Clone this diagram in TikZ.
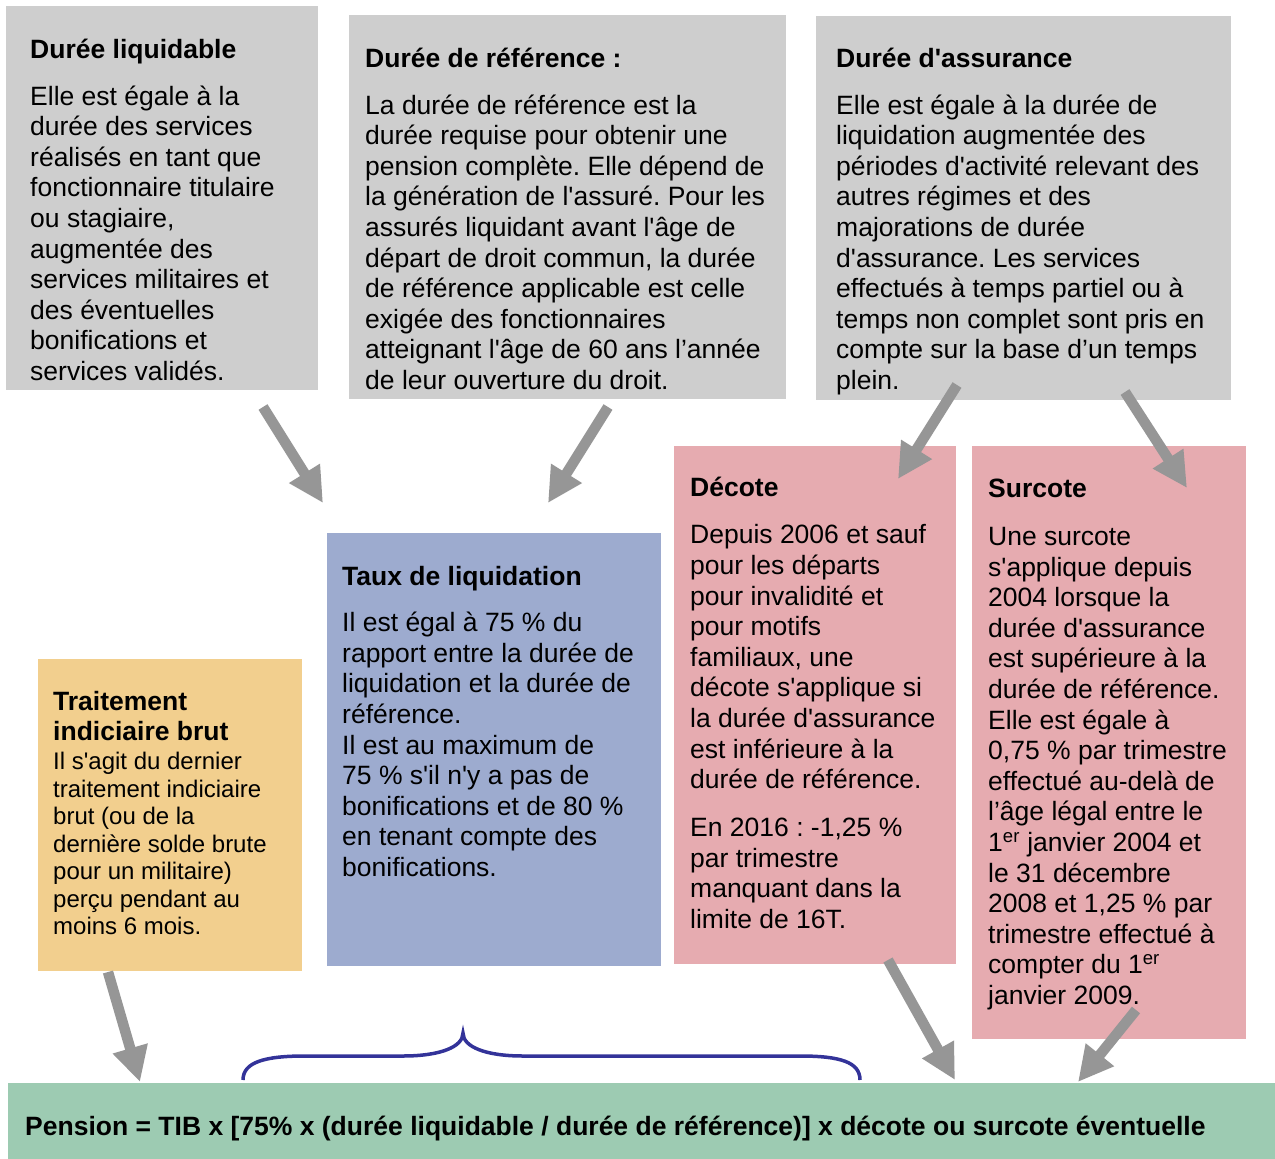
\documentclass[tikz,border=0pt]{standalone}
\usepackage{fontspec}
\newfontfamily\arial{Liberation Sans}
\usetikzlibrary{arrows.meta}
\frenchspacing

\definecolor{boxgrey}{RGB}{206,206,206}
\definecolor{boxblue}{RGB}{157,171,207}
\definecolor{boxorange}{RGB}{242,207,142}
\definecolor{boxpink}{RGB}{230,171,176}
\definecolor{boxgreen}{RGB}{157,203,178}
\definecolor{arrowgrey}{RGB}{150,150,150}
\definecolor{braceblue}{RGB}{51,51,153}

\begin{document}
\begin{tikzpicture}[
    x=1pt, y=-1pt,
    box/.style={anchor=north west, inner sep=0pt, outer sep=0pt},
    txt/.style={anchor=base west, inner sep=0pt, align=left,
        font=\arial\fontsize{26.5}{30.6}\selectfont},
    smalltxt/.style={txt, font=\arial\fontsize{24}{27.5}\selectfont},
    bigarrow/.style={draw=arrowgrey, line width=10.5pt,
        -{Triangle[length=35pt,width=34pt]}},
    brace/.style={draw=braceblue, line width=3.5pt}
    ]
\useasboundingbox (0,0) rectangle (1275,1159);

% boxes
\node[box, fill=boxgrey, minimum width=312pt, minimum height=384pt] (liq) at (6,6) {};
\node[box, fill=boxgrey, minimum width=437pt, minimum height=384pt] (ref) at (349,15) {};
\node[box, fill=boxgrey, minimum width=415pt, minimum height=384pt] (ass) at (816,16) {};
\node[box, fill=boxblue, minimum width=334pt, minimum height=433pt] (taux) at (327,533) {};
\node[box, fill=boxorange, minimum width=264pt, minimum height=312pt] (tib) at (38,659) {};
\node[box, fill=boxpink, minimum width=282pt, minimum height=518pt] (deco) at (674,446) {};
\node[box, fill=boxpink, minimum width=274pt, minimum height=593pt] (surco) at (972,446) {};
\node[box, fill=boxgreen, minimum width=1267pt, minimum height=76pt] (pension) at (8,1083) {};

% texts (placed by the baseline of their last line)
\node[txt] (liqtxt) at (30,380.5) {{\bfseries Durée liquidable}\\[16.4pt]
    Elle est égale à la\\ durée des services\\ réalisés en tant que\\
    fonctionnaire titulaire\\ ou stagiaire,\\ augmentée des\\
    services militaires et\\ des éventuelles\\ bonifications et\\
    services validés.};
\node[txt] (reftxt) at (365,389.5) {{\bfseries Durée de référence :}\\[16.4pt]
    La durée de référence est la\\ durée requise pour obtenir une\\
    pension complète. Elle dépend de\\ la génération de l'assuré. Pour les\\
    assurés liquidant avant l'âge de\\ départ de droit commun, la durée\\
    de référence applicable est celle\\ exigée des fonctionnaires\\
    atteignant l'âge de 60 ans l’année\\ de leur ouverture du droit.};
\node[txt] (asstxt) at (836,389.5) {{\bfseries Durée d'assurance}\\[16.4pt]
    Elle est égale à la durée de\\ liquidation augmentée des\\
    périodes d'activité relevant des\\ autres régimes et des\\
    majorations de durée\\ d'assurance. Les services\\
    effectués à temps partiel ou à\\ temps non complet sont pris en\\
    compte sur la base d’un temps\\ plein.};
\node[txt] (tauxtxt) at (342,876.5) {{\bfseries Taux de liquidation}\\[15.4pt]
    Il est égal à 75 \% du\\ rapport entre la durée de\\
    liquidation et la durée de\\ référence.\\ Il est au maximum de\\
    75 \% s'il n'y a pas de\\ bonifications et de 80 \%\\
    en tenant compte des\\ bonifications.};
\node[txt, font=\arial\bfseries\fontsize{26.5}{30}\selectfont] (tibtitle) at (53,740.5)
    {Traitement\\ indiciaire brut};
\node[smalltxt] (tibtxt) at (53,934.6) {Il s'agit du dernier\\ traitement indiciaire\\
    brut (ou de la\\ dernière solde brute\\ pour un militaire)\\
    perçu pendant au\\ moins 6 mois.};
\node[txt] (decotxt) at (690,928.5) {{\bfseries Décote}\\[16.4pt]
    Depuis 2006 et sauf\\ pour les départs\\ pour invalidité et\\
    pour motifs\\ familiaux, une\\ décote s'applique si\\
    la durée d'assurance\\ est inférieure à la\\ durée de référence.\\[17.5pt]
    En 2016 : -1,25 \%\\ par trimestre\\ manquant dans la\\ limite de 16T.};
\node[txt] (surcotxt) at (988,1004.5) {{\bfseries Surcote}\\[17.4pt]
    Une surcote\\ s'applique depuis\\ 2004 lorsque la\\ durée d'assurance\\
    est supérieure à la\\ durée de référence.\\ Elle est égale à\\
    0,75 \% par trimestre\\ effectué au-delà de\\ l’âge légal entre le\\
    1\textsuperscript{er} janvier 2004 et\\ le 31 décembre\\
    2008 et 1,25 \% par\\ trimestre effectué à\\
    compter du 1\textsuperscript{er}\\ janvier 2009.};
\node[txt, font=\arial\bfseries\fontsize{26.5}{30.6}\selectfont] (pensiontxt) at (25,1135.5)
    {Pension = TIB x [75\% x (durée liquidable / durée de référence)] x décote ou surcote éventuelle};

% arrow ends
\coordinate (liqout) at (263,407);
\coordinate (refout) at (608,407);
\coordinate (tauxin) at (323,503);
\coordinate (tauxin2) at (548,503);
\coordinate (assout) at (957,385);
\coordinate (assout2) at (1125,392);
\coordinate (decoin) at (898,479);
\coordinate (surcoin) at (1187,488);
\coordinate (tibout) at (108,972);
\coordinate (decoout) at (888,960);
\coordinate (surcoout) at (1136,1010);
\coordinate (pensionin) at (140,1082);
\coordinate (pensionin2) at (955,1080);
\coordinate (pensionin3) at (1078,1082);

\draw[bigarrow] (liqout) -- (tauxin);
\draw[bigarrow] (refout) -- (tauxin2);
\draw[bigarrow] (assout) -- (decoin);
\draw[bigarrow] (assout2) -- (surcoin);
\draw[bigarrow] (tibout) -- (pensionin);
\draw[bigarrow] (decoout) -- (pensionin2);
\draw[bigarrow] (surcoout) -- (pensionin3);

% brace over the rate part
\draw[brace] (243,1080) .. controls (243,1062) and (265,1056) .. (305,1056)
    -- (403,1056) .. controls (440,1056) and (463,1047) .. (463,1033)
    .. controls (463,1047) and (486,1056) .. (523,1056)
    -- (800,1056) .. controls (840,1056) and (860,1062) .. (860,1080);
\end{tikzpicture}
\end{document}
